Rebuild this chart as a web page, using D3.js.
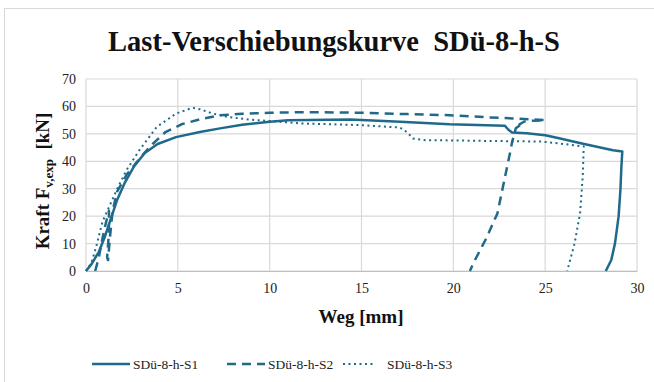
<!DOCTYPE html>
<html>
<head>
<meta charset="utf-8">
<script src="https://cdn.jsdelivr.net/npm/d3@7"></script>
</head>
<body style="margin:0">
<svg id="drawing_region" width="654" height="382"></svg>
<script>
// Weg [mm] / Kraft [kN]
var s1_x = [0, 0.3, 0.7, 1.0, 1.3, 1.7, 2.1, 2.6, 3.2, 3.9, 4.9, 6.2, 7.3, 8.5, 10, 11, 14.4, 17.1, 19.8, 22.8, 23.0, 23.2, 24, 25, 25.7, 27, 28, 28.7, 29.2, 29.15, 29.1, 29.0, 28.8, 28.6, 28.3];
var s1_y = [0, 2.5, 7, 12, 18, 26, 32, 38, 43, 46.3, 48.8, 50.7, 52, 53.3, 54.4, 55, 55.2, 54.4, 53.5, 53, 51.5, 50.5, 50.2, 49.5, 48.5, 46.5, 45, 44, 43.6, 38, 30, 20, 10, 4, 0];

var s2_x = [0.5, 0.7, 0.9, 1.1, 1.25, 1.25, 1.15, 1.2, 1.3, 1.45, 1.7, 2.2, 2.8, 3.5, 4.3, 5.2, 6.2, 7.3, 8.5, 10, 12, 15, 17.5, 19.8, 22, 23.3, 25, 23.9, 23.6, 23.8, 23.4, 23.2, 23.1, 22.4, 21.8, 21.1, 20.9];
var s2_y = [0, 5, 12, 18, 22, 14, 5, 4, 12, 22, 29, 35, 40, 45.5, 50.5, 53.5, 55.3, 56.8, 57.3, 57.7, 57.9, 57.7, 57.2, 56.8, 56, 55.6, 55, 54.6, 53.5, 54, 52, 47, 43.5, 21, 12, 3, 0];

var s3_x = [0, 0.3, 0.6, 0.9, 1.3, 1.7, 2.2, 2.9, 3.85, 4.9, 5.8, 6.2, 6.9, 7.7, 8.9, 10, 11.7, 14.9, 17.1, 17.5, 17.8, 18.5, 20, 22, 24.8, 26, 27.1, 27.05, 26.9, 26.6, 26.2];
var s3_y = [0, 3, 10, 18, 24, 30, 36.7, 44, 52.5, 57.4, 59.5, 59, 57.4, 56.2, 55.2, 54.7, 53.8, 53.2, 52.3, 50.5, 48.3, 47.7, 47.6, 47.4, 47.2, 46.3, 45.4, 35, 21, 10, 0];

var series_names = ["SDü-8-h-S1", "SDü-8-h-S2", "SDü-8-h-S3"];
var x_ticks = [0, 5, 10, 15, 20, 25, 30];
var y_ticks = [0, 10, 20, 30, 40, 50, 60, 70];

var color = "#1f6a8a";
var dashes = [null, "9,6", "2,3.5"];
var widths = [2.5, 2.5, 2];
var serif = '"Liberation Serif"';

var svg = d3.select('#drawing_region');

// Rahmen
svg.append("rect")
    .attr("x", 4.5).attr("y", 8.5)
    .attr("width", 700).attr("height", 400)
    .attr("fill", "none")
    .attr("stroke", "#d9d9d9");

var margin = {left: 86, top: 79, right: 637, bottom: 271};

var xscale = d3.scaleLinear().domain([0, 30]).range([margin.left, margin.right]);
var yscale = d3.scaleLinear().domain([0, 70]).range([margin.bottom, margin.top]);

// Gitter
svg.append("g")
    .selectAll("line")
    .data(x_ticks)
    .join("line")
    .attr("x1", d => xscale(d)).attr("x2", d => xscale(d))
    .attr("y1", yscale(0)).attr("y2", yscale(70))
    .attr("stroke", "#d9d9d9").attr("stroke-width", 1.2);

svg.append("g")
    .selectAll("line")
    .data(y_ticks)
    .join("line")
    .attr("x1", xscale(0)).attr("x2", xscale(30))
    .attr("y1", d => yscale(d)).attr("y2", d => yscale(d))
    .attr("stroke", "#d9d9d9").attr("stroke-width", 1.2);

// Achsen
var xaxis = d3.axisBottom(xscale).tickValues(x_ticks).tickSize(0).tickPadding(12);
var yaxis = d3.axisLeft(yscale).tickValues(y_ticks).tickSize(0).tickPadding(10);

svg.append("g")
    .attr("transform", `translate(0,${yscale(0)})`)
    .call(xaxis)
    .attr("font-family", null)
    .call(g => g.select(".domain").attr("stroke", "#bfbfbf"))
    .selectAll("text")
    .style("font-family", serif)
    .attr("font-size", 14).attr("fill", "#222");

svg.append("g")
    .attr("transform", `translate(${xscale(0)},0)`)
    .call(yaxis)
    .attr("font-family", null)
    .call(g => g.select(".domain").remove())
    .selectAll("text")
    .style("font-family", serif)
    .attr("font-size", 14).attr("fill", "#222");

// Kurven
var data = [
    d3.zip(s1_x, s1_y),
    d3.zip(s2_x, s2_y),
    d3.zip(s3_x, s3_y)
];

var line = d3.line()
    .x(d => xscale(d[0]))
    .y(d => yscale(d[1]));

svg.append("g")
    .selectAll("path")
    .data(data)
    .join("path")
    .attr("d", line)
    .attr("fill", "none")
    .attr("stroke", color)
    .attr("stroke-width", (d, i) => widths[i])
    .attr("stroke-dasharray", (d, i) => dashes[i])
    .attr("stroke-linejoin", "round");

// Titel
var title = svg.append("text")
    .attr("x", 334).attr("y", 51)
    .attr("text-anchor", "middle")
    .style("font-family", serif)
    .attr("font-size", 28).attr("font-weight", "bold")
    .attr("fill", "#111")
    .text("Last-Verschiebungskurve\u00a0 SDü-8-h-S");
var tw = title.node().getComputedTextLength();
title.attr("font-size", 28 * 452 / tw);

// Achsentitel
svg.append("text")
    .attr("x", 361).attr("y", 323)
    .attr("text-anchor", "middle")
    .style("font-family", serif)
    .attr("font-size", 19).attr("font-weight", "bold")
    .attr("fill", "#111")
    .text("Weg [mm]");

var ylab = svg.append("text")
    .attr("transform", "translate(49,181) rotate(-90)")
    .attr("text-anchor", "middle")
    .style("font-family", serif)
    .attr("font-size", 19).attr("font-weight", "bold")
    .attr("fill", "#111");
ylab.append("tspan").text("Kraft F");
ylab.append("tspan").attr("font-size", 13).attr("dy", 4).text("v,exp");
ylab.append("tspan").attr("dy", -4).text("\u00a0 [kN]");

// Legende
var legend_x = [92, 227, 343];
var legend = svg.append("g")
    .selectAll("g")
    .data(series_names)
    .join("g")
    .attr("transform", (d, i) => `translate(${legend_x[i]},364)`);

legend.append("line")
    .attr("x1", 0).attr("x2", (d, i) => i == 2 ? 33 : 38)
    .attr("y1", 0).attr("y2", 0)
    .attr("stroke", color)
    .attr("stroke-width", (d, i) => widths[i])
    .attr("stroke-dasharray", (d, i) => dashes[i]);

legend.append("text")
    .attr("x", (d, i) => i == 2 ? 44 : 41)
    .attr("y", 5)
    .style("font-family", serif)
    .attr("font-size", 13.5)
    .attr("fill", "#222")
    .text(d => d);
</script>
</body>
</html>
